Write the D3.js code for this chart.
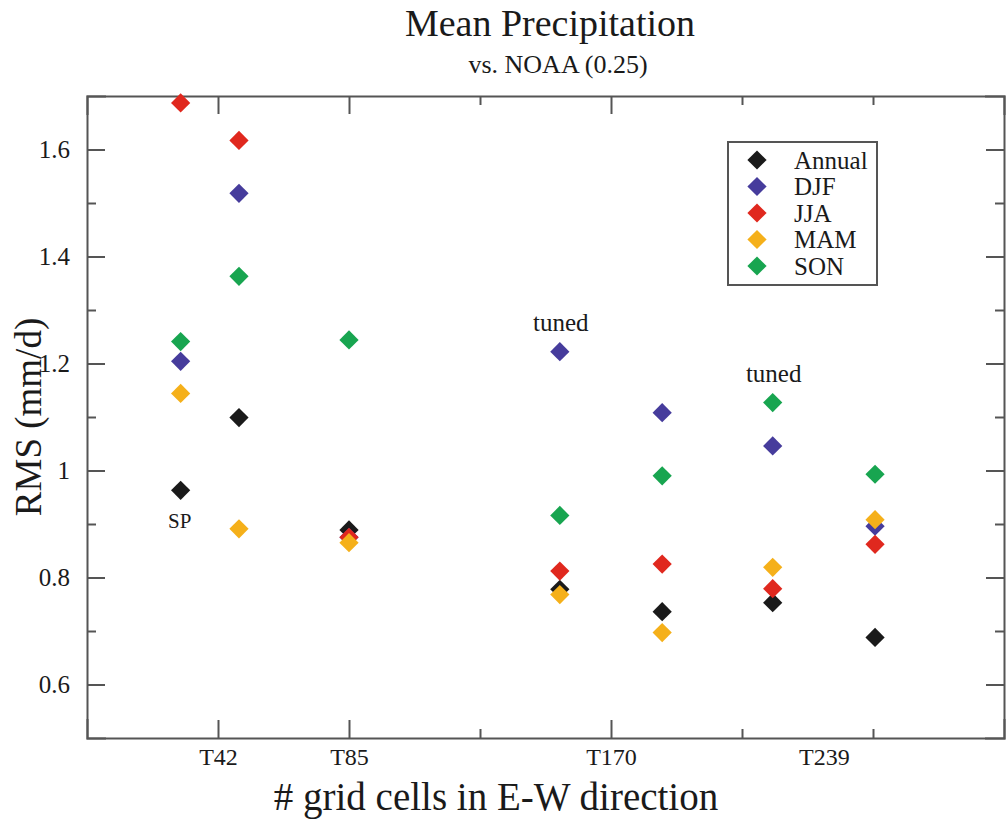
<!DOCTYPE html>
<html>
<head>
<meta charset="utf-8">
<script src="https://cdn.jsdelivr.net/npm/d3@7"></script>
<style>
  body { margin: 0; background: #fff; }
  svg { display: block; }
  text { font-family: "Liberation Serif", "Times New Roman", serif; fill: #1a1a1a; }
  .axis path, .axis line { stroke: #555; stroke-width: 2; }
</style>
</head>
<body>
<div class="chart"></div>
<script>

// x positions in grid cells (E-W), one per model run
var runs = ["SP", "T42", "T85", "T170 tuned", "T170", "T239 tuned", "T239"];
var runCells = [91.5, 148.5, 256, 462, 562, 670, 770];

var seriesNames = ["Annual", "DJF", "JJA", "MAM", "SON"];
var seriesColors = ["#1a1a1a", "#463c9c", "#e0281e", "#f5b01a", "#18a550"];

// RMS (mm/d)
var annual = [0.963, 1.099, 0.889, 0.778, 0.736, 0.753, 0.688];
var djf    = [1.204, 1.518, 0.875, 1.222, 1.108, 1.046, 0.896];
var jja    = [1.687, 1.617, 0.875, 0.812, 0.825, 0.779, 0.862];
var mam    = [1.144, 0.891, 0.865, 0.768, 0.697, 0.819, 0.908];
var son    = [1.241, 1.363, 1.244, 0.916, 0.990, 1.127, 0.993];

var xMajorTicks = [128, 256, 512];
var xMinorTicks = [384, 640, 768];
var xLabelCells = [128, 256, 512, 720];
var xLabels = ["T42", "T85", "T170", "T239"];

var yMajorTicks = [0.6, 0.8, 1.0, 1.2, 1.4, 1.6];
var yMinorTicks = [0.7, 0.9, 1.1, 1.3, 1.5];
var yLabels = ["0.6", "0.8", "1", "1.2", "1.4", "1.6"];

// text annotations: [label, run index, series index]
var notes = [["SP", 0, 0], ["tuned", 3, 1], ["tuned", 5, 4]];

function wrapper(){

  var w = 1008, h = 822;
  var svg = d3.select("div.chart")
              .append("svg")
              .attr("width", w)
              .attr("height", h);

  var frame = {left: 87, right: 1004, top: 96, bottom: 738};

  var x = d3.scaleLinear()
            .domain([0, 896])
            .range([frame.left, frame.right]);

  var y = d3.scaleLinear()
            .domain([0.5, 1.7])
            .range([frame.bottom, frame.top]);

  //ticks point inward on all four sides
  var bottomG = svg.append("g").attr("class", "axis").attr("transform", `translate(0,${frame.bottom})`);
  bottomG.call(d3.axisTop(x).tickValues(xMajorTicks).tickSize(18).tickFormat(""));
  bottomG.append("g").call(d3.axisTop(x).tickValues(xMinorTicks).tickSize(9).tickFormat("")).select(".domain").remove();

  var topG = svg.append("g").attr("class", "axis").attr("transform", `translate(0,${frame.top})`);
  topG.call(d3.axisBottom(x).tickValues(xMajorTicks).tickSize(18).tickFormat(""));
  topG.append("g").call(d3.axisBottom(x).tickValues(xMinorTicks).tickSize(9).tickFormat("")).select(".domain").remove();

  var leftG = svg.append("g").attr("class", "axis").attr("transform", `translate(${frame.left},0)`);
  leftG.call(d3.axisRight(y).tickValues(yMajorTicks).tickSize(18).tickFormat(""));
  leftG.append("g").call(d3.axisRight(y).tickValues(yMinorTicks).tickSize(9).tickFormat("")).select(".domain").remove();

  var rightG = svg.append("g").attr("class", "axis").attr("transform", `translate(${frame.right},0)`);
  rightG.call(d3.axisLeft(y).tickValues(yMajorTicks).tickSize(18).tickFormat(""));
  rightG.append("g").call(d3.axisLeft(y).tickValues(yMinorTicks).tickSize(9).tickFormat("")).select(".domain").remove();

  svg.selectAll(".axis .domain").attr("stroke-linecap", "square");

  //tick labels
  var xLab = svg.append("g")
                .attr("transform", `translate(0,${frame.bottom})`)
                .call(d3.axisBottom(x).tickValues(xLabelCells).tickSize(0).tickPadding(10)
                        .tickFormat((d, i) => xLabels[i]));
  xLab.select(".domain").remove();
  xLab.selectAll("text").attr("font-size", 24).attr("font-family", "Liberation Serif").attr("fill", "#1a1a1a");

  var yLab = svg.append("g")
                .attr("transform", `translate(${frame.left},0)`)
                .call(d3.axisLeft(y).tickValues(yMajorTicks).tickSize(0).tickPadding(17)
                        .tickFormat((d, i) => yLabels[i]));
  yLab.select(".domain").remove();
  yLab.selectAll("text").attr("font-size", 25).attr("font-family", "Liberation Serif").attr("fill", "#1a1a1a");

  //titles
  svg.append("text")
     .attr("x", 550).attr("y", 36)
     .attr("text-anchor", "middle")
     .attr("font-size", 38)
     .text("Mean Precipitation");

  svg.append("text")
     .attr("x", 558).attr("y", 73)
     .attr("text-anchor", "middle")
     .attr("font-size", 26)
     .text("vs. NOAA (0.25)");

  svg.append("text")
     .attr("transform", `translate(41,${(frame.top + frame.bottom) / 2}) rotate(-90)`)
     .attr("text-anchor", "middle")
     .attr("font-size", 37)
     .text("RMS (mm/d)");

  svg.append("text")
     .attr("x", 496).attr("y", 810)
     .attr("text-anchor", "middle")
     .attr("font-size", 39)
     .text("# grid cells in E-W direction");

  //points
  var series = [annual, djf, jja, mam, son];
  var diamond = d3.symbol(d3.symbolSquare, 185);

  series.forEach(function(vals, s){
    svg.append("g")
       .selectAll("path")
       .data(vals)
       .enter()
       .append("path")
           .attr("d", diamond)
           .attr("fill", seriesColors[s])
           .attr("transform", (d, i) => `translate(${x(runCells[i])},${y(d)}) rotate(45)`);
  });

  //annotations
  notes.forEach(function(n){
    var cx = x(runCells[n[1]]);
    var cy = y(series[n[2]][n[1]]);
    if(n[0] == "SP"){
      svg.append("text")
         .attr("x", cx - 1).attr("y", cy + 38)
         .attr("text-anchor", "middle")
         .attr("font-family", "Open Sans")
         .attr("font-size", 21)
         .text(n[0]);
    } else {
      svg.append("text")
         .attr("x", cx + 1).attr("y", cy - 21)
         .attr("text-anchor", "middle")
         .attr("font-size", 25)
         .text(n[0]);
    }
  });

  //legend
  var legend = svg.append("g");
  legend.append("rect")
        .attr("x", 728).attr("y", 142)
        .attr("width", 149).attr("height", 143)
        .attr("fill", "#fff")
        .attr("stroke", "#555")
        .attr("stroke-width", 2);

  var rows = legend.selectAll(".row")
                   .data(seriesNames)
                   .enter()
                   .append("g")
                   .attr("transform", (d, i) => `translate(757,${160 + i * 26.5})`);

  rows.append("path")
      .attr("d", diamond)
      .attr("transform", "rotate(45)")
      .attr("fill", (d, i) => seriesColors[i]);

  rows.append("text")
      .attr("x", 37).attr("y", 8.5)
      .attr("font-size", 25)
      .text(d => d);
}
window.onload = wrapper();
</script>
</body>
</html>
